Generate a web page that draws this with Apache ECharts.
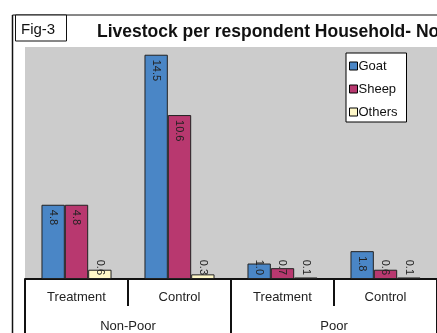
<!DOCTYPE html>
<html>
<head>
<meta charset="utf-8">
<script src="https://cdn.jsdelivr.net/npm/echarts@6/dist/echarts.min.js"></script>
<style>
html,body{margin:0;padding:0;background:#fff;}
#chart{width:437px;height:333px;}
</style>
</head>
<body>
<div id="chart"></div>
<script>
var groups = ['Treatment', 'Control', 'Treatment', 'Control'];
var classes = ['Non-Poor', 'Poor'];
var goat = [4.8, 14.5, 1.0, 1.8];
var sheep = [4.8, 10.6, 0.7, 0.6];
var others = [0.6, 0.3, 0.1, 0.1];

var chart = echarts.init(document.getElementById('chart'));

// short bars get their label pushed to the bottom, like excel does
function items(vals) {
    var out = [];
    for (var i = 0; i < vals.length; i++) {
        if (vals[i] < 1.5) {
            out.push({value: vals[i], label: {position: 'insideBottom', align: 'right', distance: 4}});
        } else {
            out.push({value: vals[i]});
        }
    }
    return out;
}

function bar(name, vals, color) {
    return {
        name: name,
        type: 'bar',
        data: items(vals),
        barGap: '0%',
        barCategoryGap: '32%',
        itemStyle: {color: color, borderColor: '#222', borderWidth: 1},
        label: {
            show: true,
            position: 'insideTop',
            distance: 5,
            rotate: -90,
            align: 'left',
            verticalAlign: 'middle',
            fontSize: 11,
            color: '#222',
            fontFamily: 'Liberation Sans, Arial',
            formatter: function(p) { return p.value.toFixed(1); }
        }
    };
}

var option = {
    animation: false,
    title: {
        text: 'Livestock per respondent Household- Non-Poor vs Poor',
        left: 97,
        top: 23,
        padding: 0,
        textStyle: {fontSize: 17.5, fontWeight: 'bold', color: '#111', fontFamily: 'Liberation Sans, Arial'}
    },
    legend: {
        orient: 'vertical',
        left: 346,
        top: 53,
        data: ['Goat', 'Sheep', 'Others'],
        backgroundColor: '#fff',
        borderColor: '#000',
        borderWidth: 1,
        padding: [6, 9, 3, 3],
        itemWidth: 8,
        itemHeight: 8,
        itemGap: 9,
        icon: 'rect',
        textStyle: {fontSize: 13, color: '#111', padding: [0, 0, 0, -4], lineHeight: 14, fontFamily: 'Liberation Sans, Arial'},
        itemStyle: {borderColor: '#000', borderWidth: 1}
    },
    grid: {
        left: 25,
        right: -2,
        top: 47,
        bottom: 53,
        show: true,
        backgroundColor: '#cccccc',
        borderWidth: 0
    },
    xAxis: [
        {
            type: 'category',
            data: groups,
            axisLine: {lineStyle: {color: '#111', width: 2}},
            axisTick: {show: true, length: 27, lineStyle: {color: '#111', width: 2}},
            axisLabel: {fontSize: 13, color: '#222', margin: 12, fontFamily: 'Liberation Sans, Arial'}
        },
        {
            type: 'category',
            data: classes,
            position: 'bottom',
            axisLine: {show: false},
            axisTick: {show: true, length: 60, lineStyle: {color: '#111', width: 2}},
            axisLabel: {fontSize: 13, color: '#222', margin: 41, fontFamily: 'Liberation Sans, Arial'}
        }
    ],
    yAxis: {
        type: 'value',
        min: 0,
        max: 15,
        show: false,
        splitLine: {show: false}
    },
    series: [
        bar('Goat', goat, '#4a86c6'),
        bar('Sheep', sheep, '#b8386f'),
        bar('Others', others, '#fff8c8')
    ],
    graphic: [
        {type: 'line', shape: {x1: 12.5, y1: 15, x2: 437, y2: 15}, style: {stroke: '#111', lineWidth: 1}},
        {type: 'line', shape: {x1: 12.5, y1: 15, x2: 12.5, y2: 333}, style: {stroke: '#111', lineWidth: 1.5}},
        {type: 'rect', shape: {x: 15.5, y: 15, width: 51, height: 26}, style: {fill: '#fff', stroke: '#111', lineWidth: 1}},
        {type: 'text', left: 21, top: 22, style: {text: 'Fig-3', fontSize: 15, fill: '#111', fontFamily: 'Liberation Sans, Arial'}}
    ]
};

chart.setOption(option);
</script>
</body>
</html>
